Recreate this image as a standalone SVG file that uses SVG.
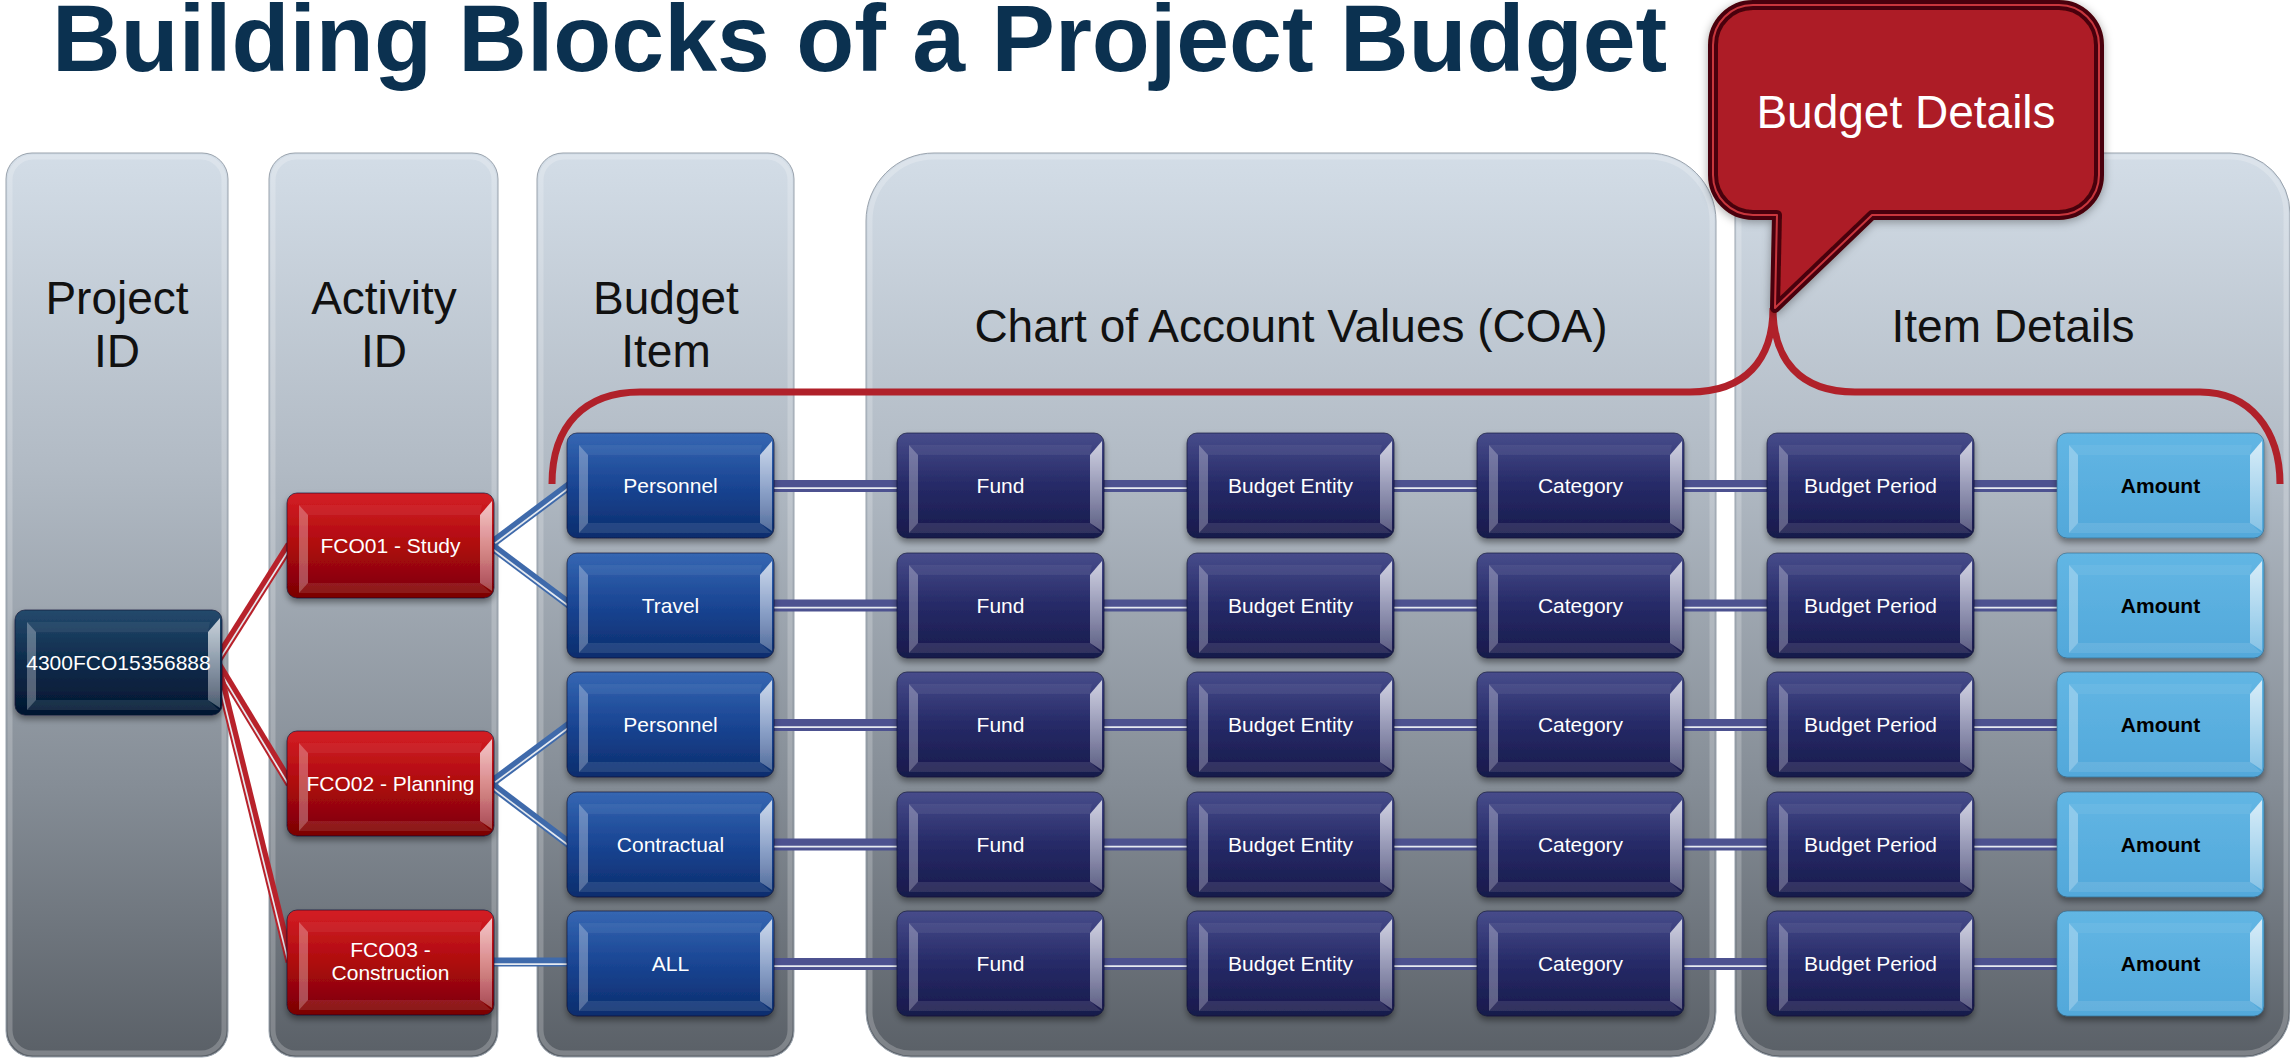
<svg xmlns="http://www.w3.org/2000/svg" xmlns:xlink="http://www.w3.org/1999/xlink" width="2290" height="1060" viewBox="0 0 2290 1060">
<defs>
<style>
.t{font-family:"Liberation Sans",Arial,sans-serif}
.title{font-size:95px;font-weight:bold;fill:#0b3150}
.hdr{font-size:46px;fill:#111;text-anchor:middle}
.nt{font-size:21px;fill:#fff;text-anchor:middle}
.amt{font-size:21px;font-weight:bold;fill:#000;text-anchor:middle}
.panel{fill:url(#gPanel);stroke:#9aa3ad;stroke-width:1}
.pin{fill:none;stroke:#fff;stroke-opacity:.22;stroke-width:5}
.box{filter:url(#sh);stroke:#0d1330;stroke-opacity:.6;stroke-width:1}
.navy{fill:url(#gNavy)}
.blue{fill:url(#gBlue)}
.red{fill:url(#gRed)}
.proj{fill:url(#gProj)}
.lb{fill:url(#gLb);stroke:#2f6486}
.cr{stroke:#b8222b;stroke-width:9}
.cb{stroke:#3f6aab;stroke-width:9}
.cp{stroke:#4d5290;stroke-width:12}
.gap{stroke:#e6eaf0;stroke-width:1.7}
</style>
<linearGradient id="gPanel" x1="0" y1="0" x2="0" y2="1">
<stop offset="0" stop-color="#d3dde7"/><stop offset=".35" stop-color="#b1bac4"/><stop offset=".7" stop-color="#858d96"/><stop offset="1" stop-color="#5a6067"/>
</linearGradient>
<linearGradient id="gNavy" x1="0" y1="0" x2="0" y2="1"><stop offset="0" stop-color="#474c8b"/><stop offset=".5" stop-color="#262a67"/><stop offset="1" stop-color="#181a4b"/></linearGradient>
<linearGradient id="gBlue" x1="0" y1="0" x2="0" y2="1"><stop offset="0" stop-color="#3567b3"/><stop offset=".5" stop-color="#1a4593"/><stop offset="1" stop-color="#0b2d6d"/></linearGradient>
<linearGradient id="gRed" x1="0" y1="0" x2="0" y2="1"><stop offset="0" stop-color="#d41e24"/><stop offset=".5" stop-color="#ae0a0e"/><stop offset="1" stop-color="#7a0004"/></linearGradient>
<linearGradient id="gProj" x1="0" y1="0" x2="0" y2="1"><stop offset="0" stop-color="#24496c"/><stop offset=".5" stop-color="#0d2b4b"/><stop offset="1" stop-color="#031630"/></linearGradient>
<linearGradient id="gLb" x1="0" y1="0" x2="0" y2="1"><stop offset="0" stop-color="#62b6e4"/><stop offset="1" stop-color="#52a8da"/></linearGradient>
<linearGradient id="gR" x1="0" y1="0" x2="0" y2="1"><stop offset="0" stop-color="#fff" stop-opacity=".75"/><stop offset="1" stop-color="#fff" stop-opacity=".3"/></linearGradient>
<filter id="sh" x="-10%" y="-10%" width="125%" height="140%"><feDropShadow dx="0" dy="4" stdDeviation="3" flood-color="#000" flood-opacity=".4"/></filter>
<filter id="csh" x="-10%" y="-10%" width="120%" height="130%"><feDropShadow dx="0" dy="2" stdDeviation="5" flood-color="#000" flood-opacity=".35"/></filter>
<g id="bev">
<polygon points="12,12 195,12 193,22 21,22" fill="#fff" fill-opacity=".06"/>
<polygon points="12,12 21,22 21,90 12,100" fill="#fff" fill-opacity=".3"/>
<polygon points="12,100 21,90 193,90 204,100" fill="#fff" fill-opacity=".1"/>
<polygon points="193,22 205,8 205,98 193,90" fill="url(#gR)"/>
</g>
</defs>
<rect width="2290" height="1060" fill="#fff"/>

<g id="panels">
<g id="panel-project"><rect class="panel" x="6" y="153" width="222" height="904" rx="26"/><rect class="pin" x="10" y="157" width="214" height="896" rx="23"/></g>
<g id="panel-activity"><rect class="panel" x="269" y="153" width="229" height="904" rx="26"/><rect class="pin" x="273" y="157" width="221" height="896" rx="23"/></g>
<g id="panel-item"><rect class="panel" x="537" y="153" width="257" height="904" rx="26"/><rect class="pin" x="541" y="157" width="249" height="896" rx="23"/></g>
<g id="panel-coa"><path class="panel" d="M934 153H1648A68 68 0 0 1 1716 221V1012A45 45 0 0 1 1671 1057H911A45 45 0 0 1 866 1012V221A68 68 0 0 1 934 153Z"/><path class="pin" d="M934 157H1648A64 64 0 0 1 1712 221V1012A41 41 0 0 1 1671 1053H911A41 41 0 0 1 870 1012V221A64 64 0 0 1 934 157Z"/></g>
<g id="panel-details"><path class="panel" d="M1797 153H2230A60 60 0 0 1 2290 213V1012A45 45 0 0 1 2245 1057H1780A45 45 0 0 1 1735 1012V215A62 62 0 0 1 1797 153Z"/><path class="pin" d="M1797 157H2230A56 56 0 0 1 2286 213V1012A41 41 0 0 1 2245 1053H1780A41 41 0 0 1 1739 1012V215A58 58 0 0 1 1797 157Z"/></g>
</g>

<g id="headers" class="t">
<text class="title" x="52" y="71">Building Blocks of a Project Budget</text>
<text class="hdr" x="117" y="314">Project</text><text class="hdr" x="117" y="367">ID</text>
<text class="hdr" x="384" y="314">Activity</text><text class="hdr" x="384" y="367">ID</text>
<text class="hdr" x="666" y="314">Budget</text><text class="hdr" x="666" y="367">Item</text>
<text class="hdr" x="1291" y="342">Chart of Account Values (COA)</text>
<text class="hdr" x="2013" y="342">Item Details</text>
</g>

<g id="connectors">
<line class="cr" x1="216" y1="662" x2="290" y2="545"/><line class="gap" x1="217.4" y1="662.8" x2="291.4" y2="545.8"/>
<line class="cr" x1="216" y1="662" x2="290" y2="784"/><line class="gap" x1="214.6" y1="662.8" x2="288.6" y2="784.8"/>
<line class="cr" x1="216" y1="662" x2="290" y2="962"/><line class="gap" x1="214.4" y1="662.4" x2="288.4" y2="962.4"/>
<line class="cb" x1="490" y1="545" x2="570" y2="485"/><line class="gap" x1="491.1" y1="546.3" x2="571.1" y2="486.3"/>
<line class="cb" x1="490" y1="545" x2="570" y2="605"/><line class="gap" x1="488.9" y1="546.3" x2="568.9" y2="606.3"/>
<line class="cb" x1="490" y1="784" x2="570" y2="724.5"/><line class="gap" x1="491.1" y1="785.3" x2="571.1" y2="725.8"/>
<line class="cb" x1="490" y1="784" x2="570" y2="844.5"/><line class="gap" x1="488.9" y1="785.3" x2="568.9" y2="845.8"/>
<line class="cb" x1="490" y1="962" x2="570" y2="962"/><line class="gap" x1="490" y1="964.2" x2="570" y2="964.2"/>
<line class="cp" x1="770" y1="486" x2="2062" y2="486"/><line class="gap" x1="770" y1="488.2" x2="2062" y2="488.2"/>
<line class="cp" x1="770" y1="605.5" x2="2062" y2="605.5"/><line class="gap" x1="770" y1="607.7" x2="2062" y2="607.7"/>
<line class="cp" x1="770" y1="725" x2="2062" y2="725"/><line class="gap" x1="770" y1="727.2" x2="2062" y2="727.2"/>
<line class="cp" x1="770" y1="844.5" x2="2062" y2="844.5"/><line class="gap" x1="770" y1="846.7" x2="2062" y2="846.7"/>
<line class="cp" x1="770" y1="964" x2="2062" y2="964"/><line class="gap" x1="770" y1="966.2" x2="2062" y2="966.2"/>
</g>

<g id="nodes" class="t">
<g id="project" transform="translate(15,610)"><rect class="box proj" width="207" height="105" rx="10"/><use href="#bev"/><text class="nt" x="103.5" y="60">4300FCO15356888</text></g>
<g id="fco01" transform="translate(287,493)"><rect class="box red" width="207" height="105" rx="10"/><use href="#bev"/><text class="nt" x="103.5" y="60">FCO01 - Study</text></g>
<g id="fco02" transform="translate(287,731)"><rect class="box red" width="207" height="105" rx="10"/><use href="#bev"/><text class="nt" x="103.5" y="60">FCO02 - Planning</text></g>
<g id="fco03" transform="translate(287,910)"><rect class="box red" width="207" height="105" rx="10"/><use href="#bev"/><text class="nt" x="103.5" y="47">FCO03 -</text><text class="nt" x="103.5" y="70">Construction</text></g>

<g id="item1" transform="translate(567,433)"><rect class="box blue" width="207" height="105" rx="10"/><use href="#bev"/><text class="nt" x="103.5" y="60">Personnel</text></g>
<g id="item2" transform="translate(567,553)"><rect class="box blue" width="207" height="105" rx="10"/><use href="#bev"/><text class="nt" x="103.5" y="60">Travel</text></g>
<g id="item3" transform="translate(567,672)"><rect class="box blue" width="207" height="105" rx="10"/><use href="#bev"/><text class="nt" x="103.5" y="60">Personnel</text></g>
<g id="item4" transform="translate(567,792)"><rect class="box blue" width="207" height="105" rx="10"/><use href="#bev"/><text class="nt" x="103.5" y="60">Contractual</text></g>
<g id="item5" transform="translate(567,911)"><rect class="box blue" width="207" height="105" rx="10"/><use href="#bev"/><text class="nt" x="103.5" y="60">ALL</text></g>

<g id="fund1" transform="translate(897,433)"><rect class="box navy" width="207" height="105" rx="10"/><use href="#bev"/><text class="nt" x="103.5" y="60">Fund</text></g>
<g id="fund2" transform="translate(897,553)"><rect class="box navy" width="207" height="105" rx="10"/><use href="#bev"/><text class="nt" x="103.5" y="60">Fund</text></g>
<g id="fund3" transform="translate(897,672)"><rect class="box navy" width="207" height="105" rx="10"/><use href="#bev"/><text class="nt" x="103.5" y="60">Fund</text></g>
<g id="fund4" transform="translate(897,792)"><rect class="box navy" width="207" height="105" rx="10"/><use href="#bev"/><text class="nt" x="103.5" y="60">Fund</text></g>
<g id="fund5" transform="translate(897,911)"><rect class="box navy" width="207" height="105" rx="10"/><use href="#bev"/><text class="nt" x="103.5" y="60">Fund</text></g>

<g id="entity1" transform="translate(1187,433)"><rect class="box navy" width="207" height="105" rx="10"/><use href="#bev"/><text class="nt" x="103.5" y="60">Budget Entity</text></g>
<g id="entity2" transform="translate(1187,553)"><rect class="box navy" width="207" height="105" rx="10"/><use href="#bev"/><text class="nt" x="103.5" y="60">Budget Entity</text></g>
<g id="entity3" transform="translate(1187,672)"><rect class="box navy" width="207" height="105" rx="10"/><use href="#bev"/><text class="nt" x="103.5" y="60">Budget Entity</text></g>
<g id="entity4" transform="translate(1187,792)"><rect class="box navy" width="207" height="105" rx="10"/><use href="#bev"/><text class="nt" x="103.5" y="60">Budget Entity</text></g>
<g id="entity5" transform="translate(1187,911)"><rect class="box navy" width="207" height="105" rx="10"/><use href="#bev"/><text class="nt" x="103.5" y="60">Budget Entity</text></g>

<g id="cat1" transform="translate(1477,433)"><rect class="box navy" width="207" height="105" rx="10"/><use href="#bev"/><text class="nt" x="103.5" y="60">Category</text></g>
<g id="cat2" transform="translate(1477,553)"><rect class="box navy" width="207" height="105" rx="10"/><use href="#bev"/><text class="nt" x="103.5" y="60">Category</text></g>
<g id="cat3" transform="translate(1477,672)"><rect class="box navy" width="207" height="105" rx="10"/><use href="#bev"/><text class="nt" x="103.5" y="60">Category</text></g>
<g id="cat4" transform="translate(1477,792)"><rect class="box navy" width="207" height="105" rx="10"/><use href="#bev"/><text class="nt" x="103.5" y="60">Category</text></g>
<g id="cat5" transform="translate(1477,911)"><rect class="box navy" width="207" height="105" rx="10"/><use href="#bev"/><text class="nt" x="103.5" y="60">Category</text></g>

<g id="period1" transform="translate(1767,433)"><rect class="box navy" width="207" height="105" rx="10"/><use href="#bev"/><text class="nt" x="103.5" y="60">Budget Period</text></g>
<g id="period2" transform="translate(1767,553)"><rect class="box navy" width="207" height="105" rx="10"/><use href="#bev"/><text class="nt" x="103.5" y="60">Budget Period</text></g>
<g id="period3" transform="translate(1767,672)"><rect class="box navy" width="207" height="105" rx="10"/><use href="#bev"/><text class="nt" x="103.5" y="60">Budget Period</text></g>
<g id="period4" transform="translate(1767,792)"><rect class="box navy" width="207" height="105" rx="10"/><use href="#bev"/><text class="nt" x="103.5" y="60">Budget Period</text></g>
<g id="period5" transform="translate(1767,911)"><rect class="box navy" width="207" height="105" rx="10"/><use href="#bev"/><text class="nt" x="103.5" y="60">Budget Period</text></g>

<g id="amount1" transform="translate(2057,433)"><rect class="box lb" width="207" height="105" rx="10"/><use href="#bev"/><text class="amt" x="103.5" y="60">Amount</text></g>
<g id="amount2" transform="translate(2057,553)"><rect class="box lb" width="207" height="105" rx="10"/><use href="#bev"/><text class="amt" x="103.5" y="60">Amount</text></g>
<g id="amount3" transform="translate(2057,672)"><rect class="box lb" width="207" height="105" rx="10"/><use href="#bev"/><text class="amt" x="103.5" y="60">Amount</text></g>
<g id="amount4" transform="translate(2057,792)"><rect class="box lb" width="207" height="105" rx="10"/><use href="#bev"/><text class="amt" x="103.5" y="60">Amount</text></g>
<g id="amount5" transform="translate(2057,911)"><rect class="box lb" width="207" height="105" rx="10"/><use href="#bev"/><text class="amt" x="103.5" y="60">Amount</text></g>
</g>

<g id="bracket">
<path d="M552 484C552 425 585 392 640 392H1690C1745 392 1773 360 1773 308C1773 360 1800 392 1855 392H2200C2250 392 2280 430 2280 484" fill="none" stroke="#b0212a" stroke-width="7"/>
</g>

<g id="callout" class="t">
<path d="M1753 5H2059A40 40 0 0 1 2099 45V175A40 40 0 0 1 2059 215H1872L1775 308L1777 215H1753A40 40 0 0 1 1713 175V45A40 40 0 0 1 1753 5Z" fill="#ad1e25" stroke="#4a0508" stroke-width="10" stroke-linejoin="round" filter="url(#csh)"/>
<path d="M1753 5H2059A40 40 0 0 1 2099 45V175A40 40 0 0 1 2059 215H1872L1775 308L1777 215H1753A40 40 0 0 1 1713 175V45A40 40 0 0 1 1753 5Z" fill="none" stroke="#c8363d" stroke-width="2" stroke-linejoin="round"/>
<text x="1906" y="128" font-size="46" fill="#fff" text-anchor="middle">Budget Details</text>
</g>
</svg>
